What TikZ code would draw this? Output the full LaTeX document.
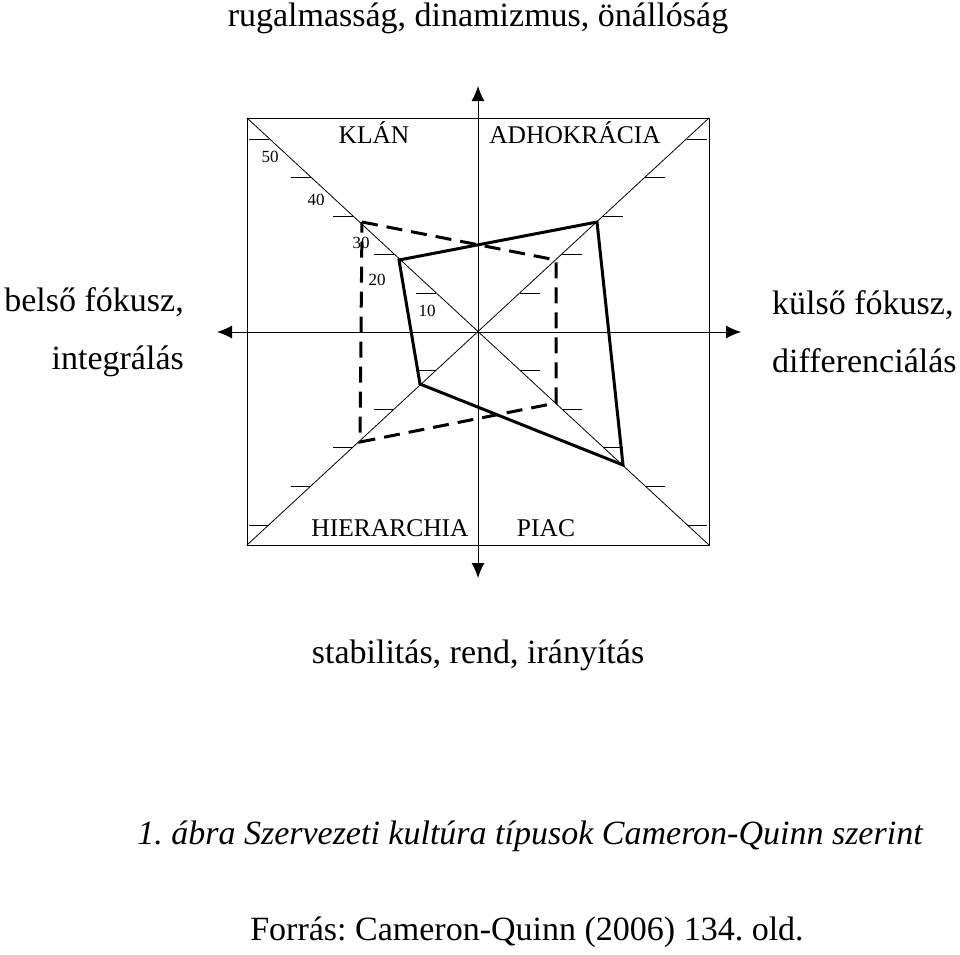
\documentclass[tikz,border=0pt]{standalone}
\usepackage{fontspec}
\setmainfont{Liberation Serif}
\usetikzlibrary{arrows.meta}
\frenchspacing
\begin{document}
\begin{tikzpicture}[x=1pt,y=-1pt,
  big/.style={font=\fontsize{34}{36}\selectfont,inner sep=0},
  mid/.style={font=\fontsize{25.5}{27}\selectfont,inner sep=0},
  sml/.style={font=\fontsize{17}{19}\selectfont,inner sep=0},
  tk/.style={line width=1pt},
  ax/.style={line width=1pt,-{Latex[length=15pt,width=13pt]}}]
\useasboundingbox (0,0) rectangle (960,954);
\draw[line width=1pt] (247,118) rectangle (709,545);
\coordinate (c) at (478,332);
\draw[line width=0.8pt] (247,118) -- (709,545) (709,118) -- (247,545);
\coordinate (t) at (478,86); \coordinate (b) at (478,578);
\coordinate (l) at (217,332); \coordinate (r) at (741,332);
\draw[ax] (c) -- (t); \draw[ax] (c) -- (b);
\draw[ax] (c) -- (l); \draw[ax] (c) -- (r);
% ticks
\foreach \k in {1,...,5}{
  \pgfmathsetmacro{\d}{38.6*\k}
  \pgfmathsetmacro{\dx}{\d/0.924}
  \draw[tk] (478-\dx-20,332-\d) -- (478-\dx,332-\d);
  \draw[tk] (478-\dx-20,332+\d) -- (478-\dx,332+\d);
  \draw[tk] (478+\dx,332-\d) -- (478+\dx+20,332-\d);
  \draw[tk] (478+\dx,332+\d) -- (478+\dx+20,332+\d);
}
\node[sml] (n50) at (270,157) {50};
\node[sml] (n40) at (316,200) {40};
\node[sml] (n30) at (361,243) {30};
\node[sml] (n20) at (377,280) {20};
\node[sml] (n10) at (427,311) {10};
\node[mid] (klan) at (374,133) {KLÁN};
\node[mid] (adh) at (575,133) {ADHOKRÁCIA};
\node[mid] (hier) at (390,528) {HIERARCHIA};
\node[mid] (piac) at (546,528) {PIAC};
% profiles
\coordinate (s1) at (399,260); \coordinate (s2) at (597,222);
\coordinate (s3) at (623,465); \coordinate (s4) at (420,384);
\draw[line width=3pt,line join=miter] (s1) -- (s2) -- (s3) -- (s4) -- cycle;
\coordinate (d1) at (362,222); \coordinate (d2) at (556,260);
\coordinate (d3) at (556,403); \coordinate (d4) at (360,442);
\draw[line width=3pt,dash pattern=on 16pt off 9pt] (d1) -- (d2) -- (d3) -- (d4) -- cycle;
\node[big] (top) at (478,18) {rugalmasság, dinamizmus, önállóság};
\node[big,align=right,anchor=east] (left) at (184,332) {belső fókusz,\\[22pt]integrálás};
\node[big,align=left,anchor=west] (right) at (772,332) {külső fókusz,\\[22pt]differenciálás};
\node[big] (bot) at (478,655) {stabilitás, rend, irányítás};
\node[big] (cap) at (530,836) {\itshape 1. ábra Szervezeti kultúra típusok Cameron-Quinn szerint};
\node[big] (src) at (527,932) {Forrás: Cameron-Quinn (2006) 134. old.};
\end{tikzpicture}
\end{document}
